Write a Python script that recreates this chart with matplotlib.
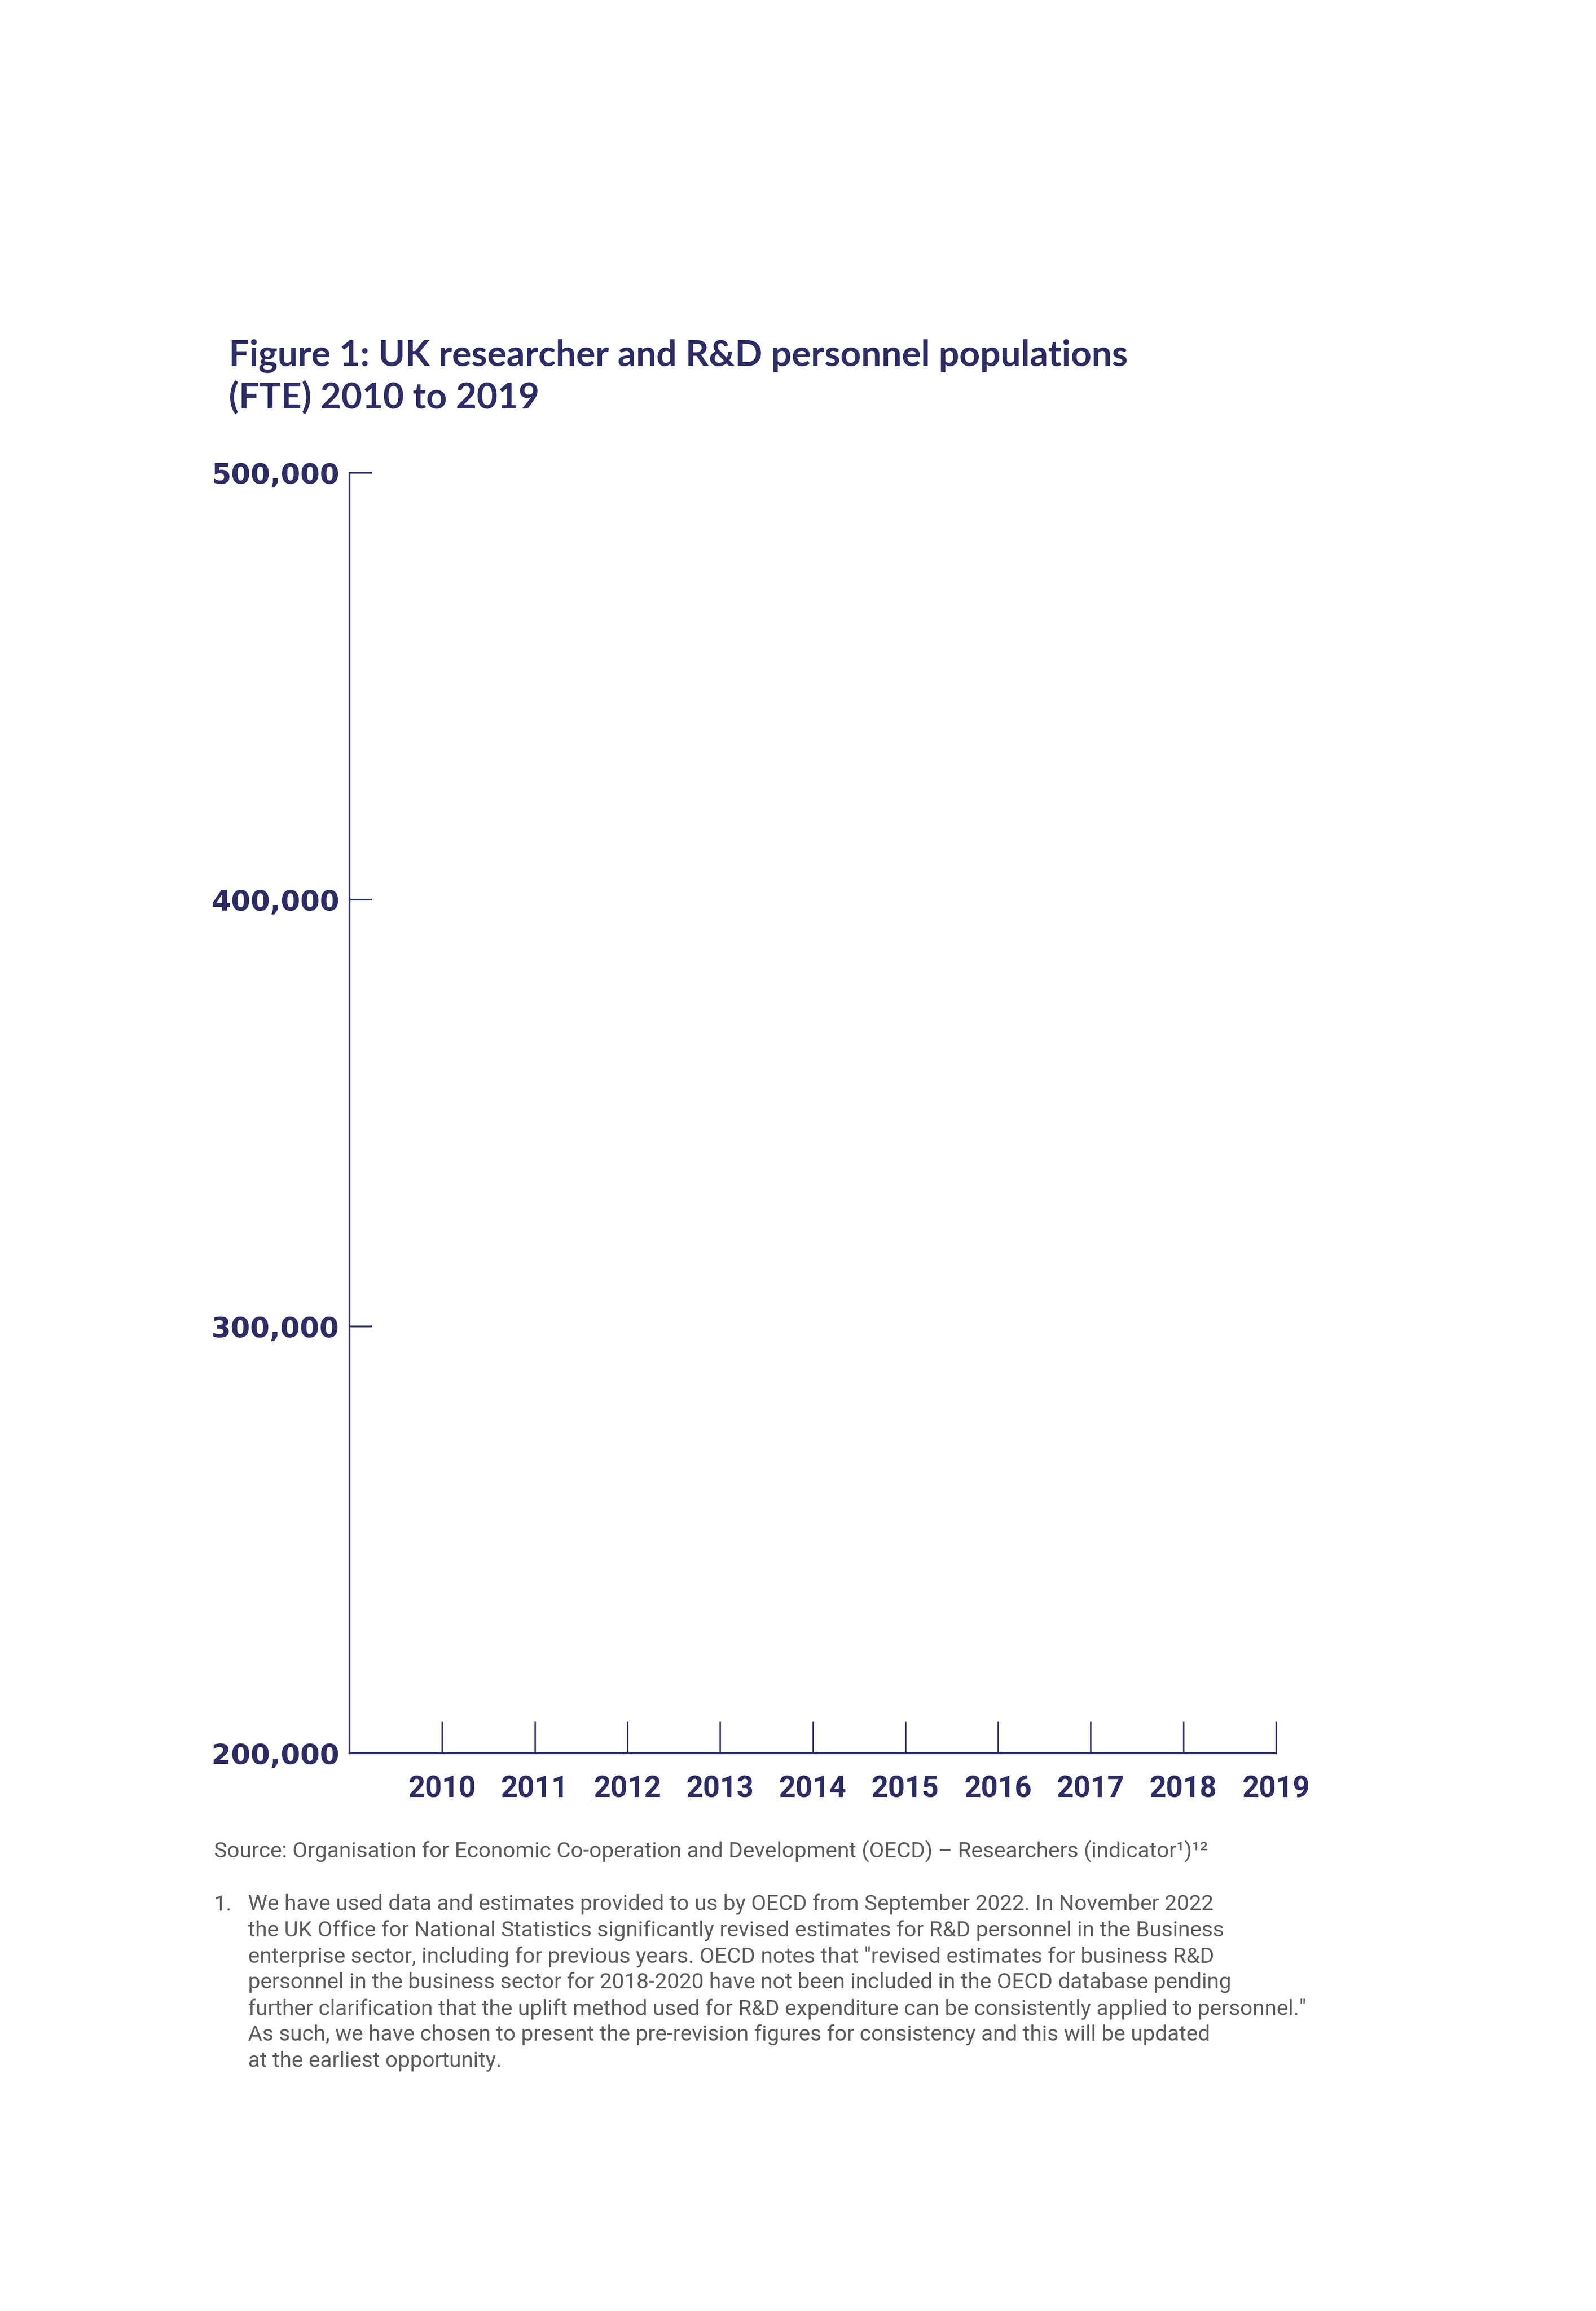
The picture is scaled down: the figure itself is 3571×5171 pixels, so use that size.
import matplotlib
matplotlib.use("Agg")
import matplotlib.pyplot as plt

# chart content (the reference shows only empty axes)
years = [2010, 2011, 2012, 2013, 2014, 2015, 2016, 2017, 2018, 2019]
y_ticks = [200000, 300000, 400000, 500000]
y_labels = ["200,000", "300,000", "400,000", "500,000"]

title_lines = [
    "Figure 1: UK researcher and R&D personnel populations",
    "(FTE) 2010 to 2019",
]
source = ("Source: Organisation for Economic Co-operation and Development "
          "(OECD) \u2013 Researchers (indicator\u00b9)\u00b9\u00b2")
note_lines = [
    "We have used data and estimates provided to us by OECD from September 2022. In November 2022",
    "the UK Office for National Statistics significantly revised estimates for R&D personnel in the Business",
    "enterprise sector, including for previous years. OECD notes that \"revised estimates for business R&D",
    "personnel in the business sector for 2018-2020 have not been included in the OECD database pending",
    "further clarification that the uplift method used for R&D expenditure can be consistently applied to personnel.\"",
    "As such, we have chosen to present the pre-revision figures for consistency and this will be updated",
    "at the earliest opportunity.",
]

navy = "#2e2c64"
grey = "#5c5c5c"

W, H, DPI = 3571, 5172, 300
fig = plt.figure(figsize=(W / DPI, H / DPI), dpi=DPI)


def fx(px):
    return px / W


def fy(py):
    return 1 - py / H


ax = fig.add_axes([fx(782), fy(3924), fx(2855) - fx(782), fy(1059) - fy(3924)])

ax.set_xlim(2009, 2019)
ax.set_ylim(200000, 500000)

for s in ["top", "right"]:
    ax.spines[s].set_visible(False)
for s in ["left", "bottom"]:
    ax.spines[s].set_color(navy)
    ax.spines[s].set_linewidth(1.0)

ax.set_xticks(years)
ax.set_xticklabels([str(y) for y in years])
ax.set_yticks(y_ticks)
ax.set_yticklabels(y_labels)

ax.tick_params(axis="x", direction="in", length=17, width=0.8, color=navy,
               pad=11.5, labelsize=15.8, labelcolor=navy)
ax.tick_params(axis="y", direction="in", length=12, width=0.9, color=navy,
               pad=5.5, labelsize=15.1, labelcolor=navy)
for lab in ax.get_xticklabels():
    lab.set_fontweight("bold")
    lab.set_family("Roboto")
for lab in ax.get_yticklabels():
    lab.set_fontweight("bold")
    lab.set_family("DejaVu Sans")

# title
for i, line in enumerate(title_lines):
    fig.text(fx(512), fy(818 + 96 * i), line, fontsize=19.4, fontweight="bold",
             color=navy, family="Lato", va="baseline", ha="left")

# source
fig.text(fx(479), fy(4156), source, fontsize=11.7, color=grey,
         family="Roboto", va="baseline", ha="left")

# footnote
fig.text(fx(479), fy(4275), "1.", fontsize=11.7, color=grey,
         family="Roboto", va="baseline", ha="left")
for i, line in enumerate(note_lines):
    fig.text(fx(555), fy(4275 + 58.3 * i), line, fontsize=11.7, color=grey,
             family="Roboto", va="baseline", ha="left")

fig.savefig("out.png", dpi=DPI)
